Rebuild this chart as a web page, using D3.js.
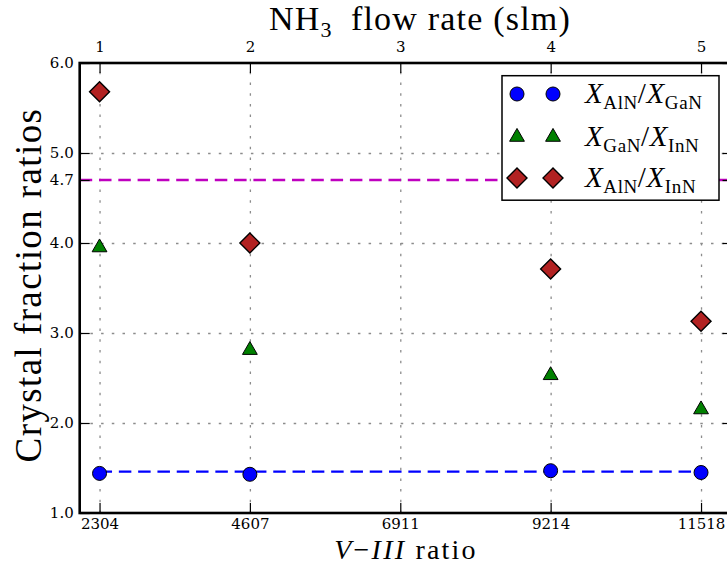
<!DOCTYPE html>
<html>
<head>
  <style>
    body { margin: 0; background: #fff; }
    svg { display: block; overflow: hidden; }
    .tick text { font-family: "DejaVu Serif", serif; font-size: 15px; fill: #000; }
    .axis .domain { display: none; }
    .axis line { stroke: #000; stroke-width: 1.2; }
    .grid line { stroke: #8c8c8c; stroke-width: 1.3; stroke-dasharray: 2.5 8.2; }
    .grid .domain, .grid text { display: none; }
    .label { font-family: "Liberation Serif", serif; fill: #000; }
  </style>
</head>
<body>
  <div id="chart"></div>
  <script src="https://d3js.org/d3.v7.min.js"></script>
  <script>
    // values
    const viiiRatio = [2304, 4607, 9214, 11518];
    const alnGan = [1.44, 1.43, 1.47, 1.45];
    const ganInn = [3.95, 2.81, 2.53, 2.15];
    const alnInn = [5.68, 4.00, 3.71, 3.13];
    const bottomTicks = [2304, 4607, 6911, 9214, 11518];
    const flowTicks = [1, 2, 3, 4, 5];
    const yTicks = [1.0, 2.0, 3.0, 4.0, 4.7, 5.0, 6.0];
    const gridY = [2.0, 3.0, 4.0, 5.0];
    const alnGanLevel = 1.46;
    const refLevel = 4.7;

    const W = 727, H = 566;
    const pLeft = 79.7, pRight = 732.5, pTop = 63, pBottom = 513;

    const svg = d3.select("#chart").append("svg")
      .attr("width", W).attr("height", H);

    const x = d3.scaleLinear().domain([2000, 12000]).range([pLeft, pRight]);
    const xTop = d3.scaleLinear().domain([1, 5]).range([x(2304), x(11518)]);
    const y = d3.scaleLinear().domain([1, 6]).range([pBottom, pTop]);

    // grid
    svg.append("g").attr("class", "grid")
      .attr("transform", "translate(0," + pBottom + ")")
      .call(d3.axisBottom(x).tickValues(bottomTicks).tickSize(-(pBottom - pTop)).tickFormat(""));
    svg.append("g").attr("class", "grid")
      .attr("transform", "translate(" + pLeft + ",0)")
      .call(d3.axisLeft(y).tickValues(gridY).tickSize(-(pRight - pLeft)).tickFormat(""));

    // reference lines
    svg.append("line")
      .attr("x1", pLeft).attr("x2", pRight)
      .attr("y1", y(refLevel)).attr("y2", y(refLevel))
      .attr("stroke", "#bf00bf").attr("stroke-width", 2.6)
      .attr("stroke-dasharray", "12.5 6.8");
    svg.append("line")
      .attr("x1", x(d3.min(viiiRatio))).attr("x2", x(d3.max(viiiRatio)))
      .attr("y1", y(alnGanLevel)).attr("y2", y(alnGanLevel))
      .attr("stroke", "#0000ff").attr("stroke-width", 2.2)
      .attr("stroke-dasharray", "12.5 6.8");

    const series = [
      { values: alnGan, color: "#0000ff", sym: d3.symbolCircle, size: 154, rot: 0, sw: 1, sub1: "AlN", sub2: "GaN" },
      { values: ganInn, color: "#008000", sym: d3.symbolTriangle, size: 95, rot: 0, sw: 1, sub1: "GaN", sub2: "InN" },
      { values: alnInn, color: "#b22222", sym: d3.symbolSquare, size: 200, rot: 45, sw: 1.4, sub1: "AlN", sub2: "InN" }
    ];

    series.forEach(s => {
      svg.append("g").selectAll("path")
        .data(s.values)
        .enter().append("path")
        .attr("d", d3.symbol().type(s.sym).size(s.size))
        .attr("transform", (d, i) => "translate(" + x(viiiRatio[i]) + "," + y(d) + ") rotate(" + s.rot + ")")
        .attr("fill", s.color)
        .attr("stroke", "#000")
        .attr("stroke-width", s.sw);
    });

    // legend
    const lg = svg.append("g");
    lg.append("rect")
      .attr("x", 502).attr("y", 75.7).attr("width", 217).attr("height", 124.5)
      .attr("fill", "#fff").attr("stroke", "#000").attr("stroke-width", 1.5);
    const rowsY = [94, 137, 178];
    series.forEach((s, k) => {
      [517, 553].forEach(mx => {
        lg.append("path")
          .attr("d", d3.symbol().type(s.sym).size(s.size)())
          .attr("transform", "translate(" + mx + "," + rowsY[k] + ") rotate(" + s.rot + ")")
          .attr("fill", s.color).attr("stroke", "#000").attr("stroke-width", s.sw);
      });
      const t = lg.append("text").attr("class", "label")
        .attr("x", 585).attr("y", rowsY[k] + 9).attr("font-size", 29).attr("letter-spacing", 0.6);
      t.append("tspan").attr("font-style", "italic").text("X");
      t.append("tspan").attr("font-size", 19).attr("dy", 6).text(s.sub1);
      t.append("tspan").attr("dy", -6).text("/");
      t.append("tspan").attr("font-style", "italic").text("X");
      t.append("tspan").attr("font-size", 19).attr("dy", 6).text(s.sub2);
    });

    // axes with inward ticks
    svg.append("g").attr("class", "axis")
      .attr("transform", "translate(0," + pBottom + ")")
      .call(d3.axisBottom(x).tickValues(bottomTicks).tickSizeInner(-10).tickSizeOuter(0).tickPadding(5).tickFormat(d3.format("d")));
    svg.append("g").attr("class", "axis")
      .attr("transform", "translate(0," + pTop + ")")
      .call(d3.axisTop(xTop).tickValues(flowTicks).tickSizeInner(-10).tickSizeOuter(0).tickPadding(11).tickFormat(d3.format("d")));
    svg.append("g").attr("class", "axis")
      .attr("transform", "translate(" + pLeft + ",0)")
      .call(d3.axisLeft(y).tickValues(yTicks).tickSizeInner(-10).tickSizeOuter(0).tickPadding(6).tickFormat(d3.format(".1f")));
    svg.append("g").attr("class", "axis")
      .attr("transform", "translate(" + pRight + ",0)")
      .call(d3.axisRight(y).tickValues(yTicks).tickSizeInner(-10).tickSizeOuter(0).tickFormat(""));

    // frame
    svg.append("rect")
      .attr("x", pLeft).attr("y", pTop)
      .attr("width", pRight - pLeft).attr("height", pBottom - pTop)
      .attr("fill", "none").attr("stroke", "#000").attr("stroke-width", 2.6);

    // axis titles
    const tt = svg.append("text").attr("class", "label")
      .attr("x", 420).attr("y", 30).attr("text-anchor", "middle")
      .attr("font-size", 34).attr("letter-spacing", 1.2);
    tt.append("tspan").text("NH");
    tt.append("tspan").attr("font-size", 22).attr("dy", 7).text("3");
    tt.append("tspan").attr("dy", -7).text("\u2002flow rate (slm)");

    const xl = svg.append("text").attr("class", "label")
      .attr("x", 406).attr("y", 559).attr("text-anchor", "middle")
      .attr("font-size", 28).attr("letter-spacing", 2.2);
    xl.append("tspan").attr("font-style", "italic").text("V");
    xl.append("tspan").text("\u2212");
    xl.append("tspan").attr("font-style", "italic").text("III");
    xl.append("tspan").text(" ratio");

    svg.append("text").attr("class", "label")
      .attr("transform", "translate(41," + ((pTop + pBottom) / 2 - 3) + ") rotate(-90)")
      .attr("text-anchor", "middle")
      .attr("font-size", 37).attr("letter-spacing", 1.4)
      .text("Crystal fraction ratios");
  </script>
</body>
</html>
